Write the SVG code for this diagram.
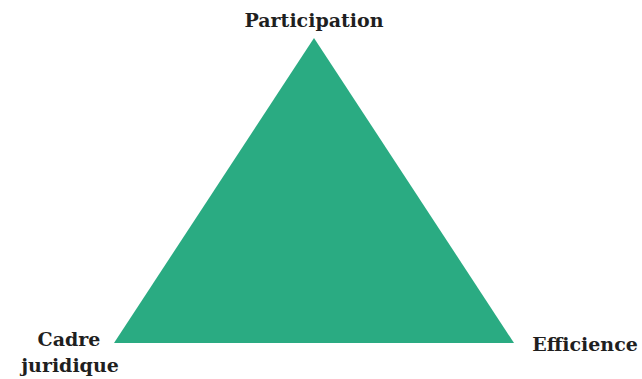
<svg xmlns="http://www.w3.org/2000/svg" width="642" height="379" viewBox="0 0 642 379">
<style>
.lbl{font-family:"DejaVu Serif","Liberation Serif",serif;font-weight:bold;font-size:19px;fill:#1f1f1f}
</style>
<rect width="642" height="379" fill="#ffffff"/>
<g id="triangle"><polygon points="314,38 114,343 514,343" fill="#2aab82"/></g>
<g id="connectors"></g>
<g id="participation"><text class="lbl" x="314" y="27" text-anchor="middle">Participation</text></g>
<g id="cadre"><text class="lbl" x="69" y="346" text-anchor="middle">Cadre</text><text class="lbl" x="70" y="372" text-anchor="middle">juridique</text></g>
<g id="efficience"><text class="lbl" x="585" y="351" text-anchor="middle">Efficience</text></g>
</svg>
